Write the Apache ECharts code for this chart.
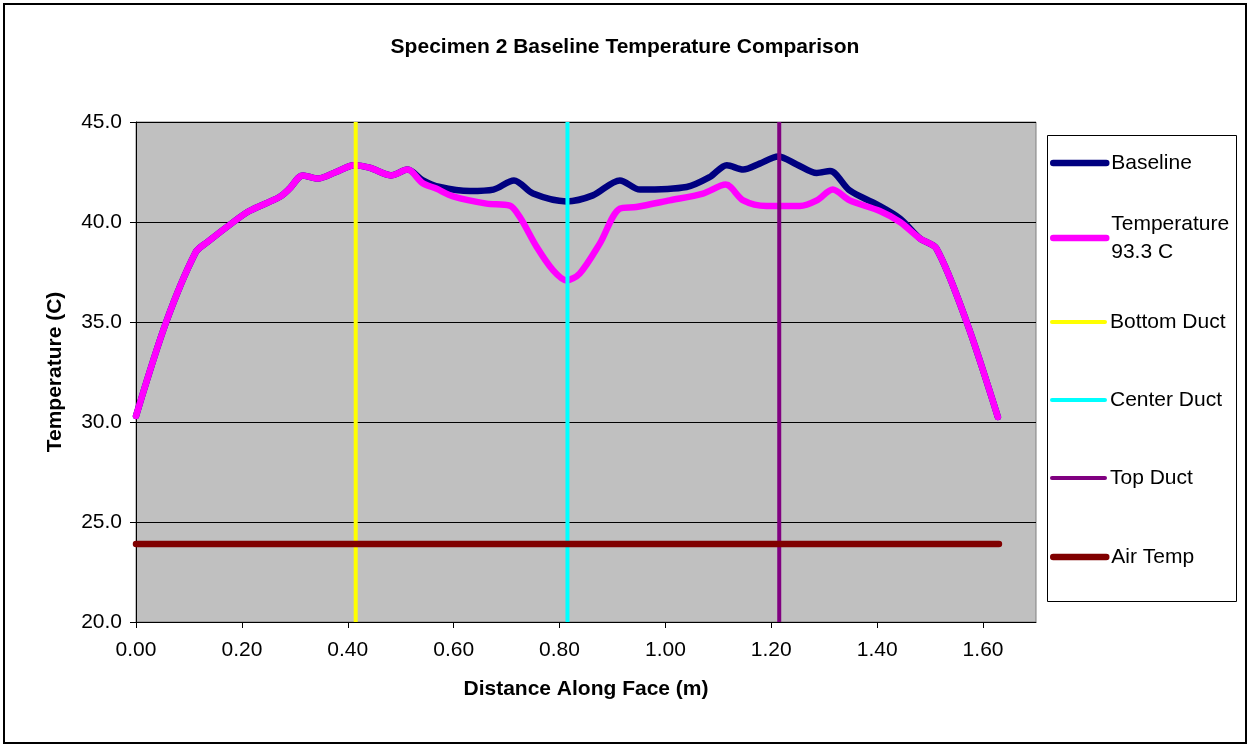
<!DOCTYPE html>
<html><head><meta charset="utf-8">
<script src="https://cdn.jsdelivr.net/npm/echarts@6/dist/echarts.min.js"></script>
<style>html,body{margin:0;padding:0;background:#fff}#c{width:1250px;height:747px}</style>
</head><body><div id="c"></div>
<script>
// ---- data ----
const baselineX = [0.000,0.057,0.113,0.135,0.189,0.214,0.271,0.290,0.315,0.343,0.378,0.412,0.441,0.482,0.513,0.541,0.574,0.631,0.675,0.714,0.750,0.813,0.863,0.914,0.952,1.040,1.084,1.116,1.147,1.178,1.213,1.248,1.286,1.311,1.348,1.399,1.443,1.481,1.512,1.569,1.628];
const baselineY = [30.3,35.0,38.5,39.0,40.1,40.55,41.25,41.67,42.33,42.17,42.5,42.84,42.72,42.33,42.62,42.1,41.75,41.55,41.62,42.08,41.42,41.03,41.33,42.08,41.62,41.75,42.25,42.84,42.62,42.92,43.28,42.88,42.45,42.55,41.58,40.88,40.17,39.17,38.67,35.0,30.25];
const tempX = [0.000,0.057,0.113,0.135,0.189,0.214,0.271,0.290,0.315,0.343,0.378,0.412,0.441,0.482,0.513,0.541,0.567,0.599,0.662,0.706,0.725,0.757,0.788,0.813,0.838,0.876,0.914,0.945,1.008,1.071,1.114,1.147,1.191,1.254,1.286,1.316,1.348,1.405,1.443,1.481,1.512,1.569,1.628];
const tempY = [30.3,35.0,38.5,39.0,40.1,40.55,41.25,41.67,42.33,42.17,42.5,42.84,42.72,42.33,42.62,41.95,41.67,41.28,40.92,40.82,40.25,38.75,37.58,37.08,37.42,38.92,40.67,40.75,41.08,41.42,41.87,41.08,40.8,40.8,41.08,41.62,41.08,40.55,40.0,39.17,38.67,35.0,30.25];
const ductNames = ['Bottom Duct','Center Duct','Top Duct'];
const ductX = [0.415, 0.815, 1.215];
const ductYSpan = [20, 45];
const airTempX = [0.0, 1.63];
const airTempY = [23.9, 23.9];
const seriesNames = ['Baseline','Temperature 93.3 C','Bottom Duct','Center Duct','Top Duct','Air Temp'];
const legendLabels = ['Baseline','Temperature\n93.3 C','Bottom Duct','Center Duct','Top Duct','Air Temp'];
const xAxisRange = [0, 1.7, 0.2];
const yAxisRange = [20, 45, 5];

// ---- styles ----
const colors = ['#000080','#FF00FF','#FFFF00','#00FFFF','#800080','#800000'];
const widths = [6.5, 6.5, 4, 4, 4, 6.5];
const FONT = '"Liberation Sans", Arial, sans-serif';
const FS = 21;

const zip = (xs, ys) => xs.map((x, i) => [x, ys[i]]);

const series = [
  { name: seriesNames[0], data: zip(baselineX, baselineY), smooth: 0.3 },
  { name: seriesNames[1], data: zip(tempX, tempY), smooth: 0.3 },
  ...ductX.map((x, i) => ({ name: ductNames[i], data: [[x, ductYSpan[0]], [x, ductYSpan[1]]], smooth: false })),
  { name: seriesNames[5], data: zip(airTempX, airTempY), smooth: false }
].map((s, i) => Object.assign({
  type: 'line', symbol: 'none', showSymbol: false, animation: false,
  lineStyle: { color: colors[i], width: widths[i], cap: i >= 2 && i <= 4 ? 'butt' : 'round', join: 'round' },
  itemStyle: { color: colors[i] },
  emphasis: { disabled: true }
}, s));

// legend layout: symbol centers
const legendCenters = [163, 238, 322, 400, 478, 557];
const legends = seriesNames.map((n, i) => {
  const two = legendLabels[i].indexOf('\n') >= 0;
  const lh = 28;
  return {
    data: [n], orient: 'vertical', left: 1050, padding: 0,
    top: two ? legendCenters[i] - 1.5 * lh : legendCenters[i] - 11.5,
    itemWidth: 53, itemHeight: 14, itemGap: 0, selectedMode: false,
    formatter: () => legendLabels[i],
    textStyle: two ? { fontSize: FS, fontFamily: FONT, color: '#000', lineHeight: lh, padding: [lh, 0, 0, 0] }
                   : { fontSize: FS, fontFamily: FONT, color: '#000', lineHeight: 23 },
    itemStyle: { opacity: 0 },
    lineStyle: { width: widths[i], cap: 'round' }
  };
});

const chart = echarts.init(document.getElementById('c'), null, { renderer: 'canvas' });
chart.setOption({
  backgroundColor: '#fff',
  animation: false,
  title: {
    text: 'Specimen 2 Baseline Temperature Comparison', left: 'center', top: 32,
    textStyle: { fontSize: FS, fontWeight: 'bold', fontFamily: FONT, color: '#000' }
  },
  legend: legends,
  grid: { left: 136, top: 122, right: 214, bottom: 125, show: true, backgroundColor: '#C0C0C0', borderColor: '#808080', borderWidth: 1 },
  xAxis: {
    type: 'value', min: xAxisRange[0], max: xAxisRange[1], interval: xAxisRange[2],
    name: 'Distance Along Face (m)', nameLocation: 'middle', nameGap: 57,
    nameTextStyle: { fontSize: FS, fontWeight: 'bold', fontFamily: FONT, color: '#000' },
    axisLine: { lineStyle: { color: '#000', width: 1 } },
    axisTick: { show: true, inside: false, length: 6, lineStyle: { color: '#000' } },
    axisLabel: { showMaxLabel: false, margin: 18, fontSize: FS, fontFamily: FONT, color: '#000', formatter: v => v.toFixed(2) },
    splitLine: { show: false }
  },
  yAxis: {
    type: 'value', min: yAxisRange[0], max: yAxisRange[1], interval: yAxisRange[2],
    name: 'Temperature (C)', nameLocation: 'middle', nameGap: 70,
    nameTextStyle: { fontSize: FS, fontWeight: 'bold', fontFamily: FONT, color: '#000' },
    axisLine: { show: true, lineStyle: { color: '#000', width: 1 } },
    axisTick: { show: true, inside: false, length: 6, lineStyle: { color: '#000' } },
    axisLabel: { margin: 14, fontSize: FS, fontFamily: FONT, color: '#000', formatter: v => v.toFixed(1) },
    splitLine: { show: true, lineStyle: { color: '#000', width: 1 } }
  },
  graphic: [
    { type: 'rect', shape: { x: 4, y: 4, width: 1242, height: 739 }, style: { fill: 'none', stroke: '#000', lineWidth: 2 }, silent: true, z: -1 },
    { type: 'rect', shape: { x: 1047.5, y: 135.5, width: 189, height: 466 }, style: { fill: '#fff', stroke: '#000', lineWidth: 1 }, silent: true, z: -1 }
  ],
  series: series
});
</script></body></html>
